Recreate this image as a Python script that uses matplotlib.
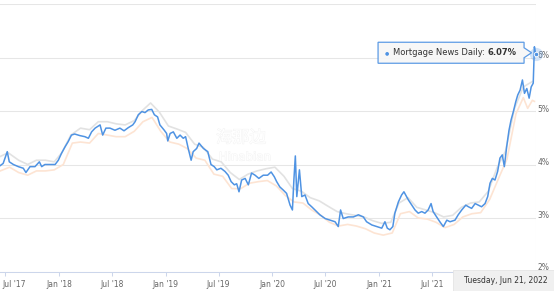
import matplotlib
matplotlib.use("Agg")
import matplotlib.pyplot as plt
import matplotlib.dates as mdates
import matplotlib.patheffects as pe
from matplotlib.patches import Polygon, Rectangle
from matplotlib.transforms import ScaledTranslation
import pandas as pd

# ---- data ----
mnd_points = [
    ("2017-06-13", 3.98), ("2017-06-23", 4.02), ("2017-07-07", 4.24), ("2017-07-14", 4.05),
    ("2017-07-28", 4.00), ("2017-08-14", 3.96), ("2017-08-31", 3.93), ("2017-09-09", 3.85),
    ("2017-09-23", 3.96), ("2017-10-10", 3.96), ("2017-10-25", 4.05), ("2017-11-02", 3.96),
    ("2017-11-13", 4.00), ("2017-11-30", 4.00), ("2017-12-18", 4.00), ("2017-12-29", 4.08),
    ("2018-01-09", 4.21), ("2018-01-21", 4.33), ("2018-02-01", 4.43), ("2018-02-12", 4.55),
    ("2018-02-23", 4.57), ("2018-03-13", 4.54), ("2018-03-30", 4.52), ("2018-04-11", 4.49),
    ("2018-04-22", 4.61), ("2018-05-04", 4.68), ("2018-05-21", 4.74), ("2018-05-30", 4.55),
    ("2018-06-10", 4.68), ("2018-06-24", 4.68), ("2018-07-11", 4.64), ("2018-07-28", 4.68),
    ("2018-08-11", 4.63), ("2018-08-26", 4.69), ("2018-09-10", 4.74), ("2018-09-18", 4.80),
    ("2018-09-29", 4.93), ("2018-10-11", 4.99), ("2018-10-22", 4.97), ("2018-11-02", 5.02),
    ("2018-11-14", 5.03), ("2018-11-23", 4.93), ("2018-12-04", 4.89), ("2018-12-12", 4.74),
    ("2018-12-27", 4.64), ("2019-01-04", 4.58), ("2019-01-08", 4.44), ("2019-01-16", 4.58),
    ("2019-01-27", 4.61), ("2019-02-08", 4.49), ("2019-02-19", 4.55), ("2019-03-02", 4.49),
    ("2019-03-10", 4.52), ("2019-03-19", 4.30), ("2019-03-29", 4.08), ("2019-04-05", 4.24),
    ("2019-04-17", 4.30), ("2019-04-25", 4.40), ("2019-05-10", 4.30), ("2019-05-25", 4.24),
    ("2019-06-05", 4.00), ("2019-06-16", 3.96), ("2019-06-25", 3.90), ("2019-07-09", 3.93),
    ("2019-07-23", 3.87), ("2019-08-03", 3.80), ("2019-08-13", 3.68), ("2019-08-24", 3.62),
    ("2019-09-01", 3.64), ("2019-09-09", 3.49), ("2019-09-18", 3.71), ("2019-09-30", 3.74),
    ("2019-10-11", 3.62), ("2019-10-22", 3.84), ("2019-11-03", 3.80), ("2019-11-16", 3.74),
    ("2019-12-01", 3.80), ("2019-12-16", 3.80), ("2019-12-28", 3.86), ("2020-01-08", 3.77),
    ("2020-01-16", 3.68), ("2020-01-27", 3.58), ("2020-02-08", 3.52), ("2020-02-19", 3.46),
    ("2020-03-02", 3.24), ("2020-03-10", 3.15), ("2020-03-15", 3.71), ("2020-03-20", 4.16),
    ("2020-03-25", 3.40), ("2020-04-03", 3.90), ("2020-04-11", 3.40), ("2020-04-22", 3.43),
    ("2020-05-03", 3.27), ("2020-05-15", 3.21), ("2020-05-26", 3.15), ("2020-06-12", 3.06),
    ("2020-06-30", 2.99), ("2020-07-17", 2.96), ("2020-08-03", 2.93), ("2020-08-14", 2.84),
    ("2020-08-22", 3.15), ("2020-08-31", 2.99), ("2020-09-17", 3.02), ("2020-10-05", 3.02),
    ("2020-10-22", 3.06), ("2020-11-08", 3.02), ("2020-11-19", 2.93), ("2020-12-07", 2.87),
    ("2020-12-24", 2.84), ("2021-01-10", 2.81), ("2021-01-21", 2.93), ("2021-01-29", 2.81),
    ("2021-02-07", 2.78), ("2021-02-17", 2.84), ("2021-02-24", 3.09), ("2021-03-08", 3.30),
    ("2021-03-19", 3.43), ("2021-03-27", 3.49), ("2021-04-05", 3.40), ("2021-04-11", 3.34),
    ("2021-04-23", 3.24), ("2021-05-04", 3.15), ("2021-05-15", 3.09), ("2021-05-27", 3.12),
    ("2021-06-07", 3.09), ("2021-06-18", 3.15), ("2021-06-28", 3.27), ("2021-07-05", 3.12),
    ("2021-07-17", 3.02), ("2021-07-28", 2.93), ("2021-08-09", 2.84), ("2021-08-21", 2.96),
    ("2021-09-01", 2.93), ("2021-09-18", 2.96), ("2021-09-29", 3.06), ("2021-10-11", 3.15),
    ("2021-10-25", 3.24), ("2021-11-03", 3.21), ("2021-11-14", 3.18), ("2021-11-26", 3.27),
    ("2021-12-07", 3.24), ("2021-12-18", 3.21), ("2021-12-30", 3.27), ("2022-01-08", 3.40),
    ("2022-01-16", 3.65), ("2022-01-24", 3.74), ("2022-02-02", 3.71), ("2022-02-11", 3.87),
    ("2022-02-19", 4.12), ("2022-02-27", 4.18), ("2022-03-06", 3.96), ("2022-03-14", 4.33),
    ("2022-03-22", 4.64), ("2022-03-29", 4.83), ("2022-04-06", 4.99), ("2022-04-14", 5.17),
    ("2022-04-21", 5.30), ("2022-04-29", 5.39), ("2022-05-07", 5.58), ("2022-05-14", 5.33),
    ("2022-05-22", 5.42), ("2022-05-30", 5.24), ("2022-06-06", 5.45), ("2022-06-13", 5.52),
    ("2022-06-17", 6.20), ("2022-06-21", 6.07),
]

# faded comparison series (grey above, peach below)
grey_points = [
    ("2017-06-13", 4.15), ("2017-07-10", 4.22), ("2017-08-15", 4.08), ("2017-09-15", 4.00),
    ("2017-10-15", 4.08), ("2017-11-15", 4.08), ("2017-12-15", 4.05), ("2018-01-10", 4.22),
    ("2018-02-10", 4.55), ("2018-03-15", 4.68), ("2018-04-15", 4.65), ("2018-05-15", 4.80),
    ("2018-06-15", 4.80), ("2018-07-15", 4.76), ("2018-08-15", 4.74), ("2018-09-15", 4.82),
    ("2018-10-15", 5.02), ("2018-11-10", 5.15), ("2018-12-10", 4.98), ("2019-01-10", 4.72),
    ("2019-02-10", 4.66), ("2019-03-10", 4.60), ("2019-04-10", 4.38), ("2019-05-10", 4.32),
    ("2019-06-10", 4.10), ("2019-07-10", 4.05), ("2019-08-10", 3.85), ("2019-09-10", 3.72),
    ("2019-10-10", 3.82), ("2019-11-10", 3.88), ("2019-12-10", 3.92), ("2020-01-10", 3.95),
    ("2020-02-10", 3.78), ("2020-03-10", 3.55), ("2020-04-10", 3.50), ("2020-05-10", 3.38),
    ("2020-06-10", 3.32), ("2020-07-10", 3.22), ("2020-08-10", 3.12), ("2020-09-10", 3.08),
    ("2020-10-10", 3.05), ("2020-11-10", 3.02), ("2020-12-10", 2.95), ("2021-01-10", 2.90),
    ("2021-02-10", 2.92), ("2021-03-10", 3.28), ("2021-04-10", 3.38), ("2021-05-10", 3.20),
    ("2021-06-10", 3.15), ("2021-07-10", 3.10), ("2021-08-10", 3.02), ("2021-09-10", 3.05),
    ("2021-10-10", 3.20), ("2021-11-10", 3.28), ("2021-12-10", 3.30), ("2022-01-10", 3.50),
    ("2022-02-10", 3.95), ("2022-03-10", 4.25), ("2022-04-10", 5.05), ("2022-05-10", 5.45),
    ("2022-06-10", 5.55),
]

peach_points = [
    ("2017-06-13", 3.88), ("2017-07-15", 3.95), ("2017-08-15", 3.85), ("2017-09-15", 3.80),
    ("2017-10-15", 3.88), ("2017-11-15", 3.88), ("2017-12-15", 3.90), ("2018-01-15", 4.00),
    ("2018-02-15", 4.40), ("2018-03-15", 4.42), ("2018-04-15", 4.40), ("2018-05-15", 4.58),
    ("2018-06-15", 4.55), ("2018-07-15", 4.52), ("2018-08-15", 4.52), ("2018-09-15", 4.62),
    ("2018-10-15", 4.80), ("2018-11-15", 4.88), ("2018-12-15", 4.62), ("2019-01-15", 4.42),
    ("2019-02-15", 4.38), ("2019-03-15", 4.30), ("2019-04-15", 4.12), ("2019-05-15", 4.08),
    ("2019-06-15", 3.82), ("2019-07-15", 3.78), ("2019-08-15", 3.55), ("2019-09-15", 3.55),
    ("2019-10-15", 3.65), ("2019-11-15", 3.68), ("2019-12-15", 3.70), ("2020-01-15", 3.60),
    ("2020-02-15", 3.42), ("2020-03-15", 3.30), ("2020-04-15", 3.28), ("2020-05-15", 3.15),
    ("2020-06-15", 3.05), ("2020-07-15", 2.92), ("2020-08-15", 2.85), ("2020-09-15", 2.88),
    ("2020-10-15", 2.85), ("2020-11-15", 2.80), ("2020-12-15", 2.72), ("2021-01-15", 2.68),
    ("2021-02-15", 2.72), ("2021-03-15", 3.08), ("2021-04-15", 3.12), ("2021-05-15", 3.00),
    ("2021-06-15", 2.98), ("2021-07-15", 2.92), ("2021-08-15", 2.82), ("2021-09-15", 2.88),
    ("2021-10-15", 3.02), ("2021-11-15", 3.08), ("2021-12-15", 3.10), ("2022-01-15", 3.35),
    ("2022-02-15", 3.75), ("2022-03-15", 4.10), ("2022-04-15", 4.95), ("2022-05-10", 5.25),
    ("2022-05-25", 5.05), ("2022-06-10", 5.20), ("2022-06-17", 5.18),
]

series_name = "Mortgage News Daily"
tick_dates = ["2017-07-01", "2018-01-01", "2018-07-01", "2019-01-01", "2019-07-01",
              "2020-01-01", "2020-07-01", "2021-01-01", "2021-07-01", "2022-01-01"]
y_ticks = [2, 3, 4, 5, 6, 7]


def split(points):
    d, v = zip(*points)
    return pd.to_datetime(list(d)), list(v)


mnd_dates, mnd_rates = split(mnd_points)
grey_dates, grey_rates = split(grey_points)
peach_dates, peach_rates = split(peach_points)

BLUE = "#4f93e3"
W, H = 554, 291
fig = plt.figure(figsize=(W / 100, H / 100), dpi=100)
ax = fig.add_axes([0, 19.5 / H, 536 / W, 267.5 / H])

ax.plot(grey_dates, grey_rates, color="#e2e2e2", lw=1.2, zorder=2)
ax.plot(peach_dates, peach_rates, color="#fde4d3", lw=1.2, zorder=2)
ax.plot(mnd_dates, mnd_rates, color=BLUE, lw=1.1, zorder=3)

ax.set_xlim(pd.Timestamp("2017-06-12 04:00"), pd.Timestamp("2022-06-22 12:00"))
ax.set_ylim(2, 7)

for s in ["left", "right", "top"]:
    ax.spines[s].set_visible(False)
ax.spines["bottom"].set_color("#ccd6eb")
ax.spines["bottom"].set_linewidth(0.75)

ax.set_yticks(y_ticks)
ax.set_yticklabels([f"{t}%" if t < 7 else "" for t in y_ticks])
ax.yaxis.tick_right()
ax.tick_params(axis="y", length=0, pad=1, labelsize=5.5, labelcolor="#666666")
for t, lab in zip(y_ticks, ax.get_yticklabels()):
    dy = 0.055 if t == 2 else 0.03
    lab.set_transform(lab.get_transform() + ScaledTranslation(0, dy, fig.dpi_scale_trans))
ax.grid(axis="y", color="#e6e6e6", lw=0.75)
ax.set_axisbelow(True)

ax.set_xticks(pd.to_datetime(tick_dates))
ax.xaxis.set_major_formatter(mdates.DateFormatter("%b '%y"))
ax.tick_params(axis="x", length=3, width=0.75, color="#ccd6eb", pad=3,
               labelsize=5.5, labelcolor="#666666")
xl = ax.get_xticklabels()
xl[0].set_horizontalalignment("left")
xl[0].set_transform(xl[0].get_transform() + ScaledTranslation(-0.035, 0, fig.dpi_scale_trans))
xl[-1].set_visible(False)  # hidden under the crosshair date label

# watermark (very faint)
fig.text(241 / W, 1 - 138 / H, "海那边", fontsize=12, color="white", ha="center", va="center",
         family=["Noto Sans CJK SC", "DejaVu Sans"], zorder=5,
         path_effects=[pe.withStroke(linewidth=0.7, foreground="#f3f3f3")])
fig.text(245 / W, 1 - 157 / H, "Hinabian", fontsize=8.5, color="white", ha="center", va="center",
         zorder=5, path_effects=[pe.withStroke(linewidth=0.7, foreground="#f3f3f3")])

# crosshair + hover marker (with halo) on the last point
last_d, last_v = mnd_dates[-1], mnd_rates[-1]
ax.axvline(last_d, color="#cccccc", lw=0.75, zorder=1)
ax.plot([last_d], [last_v], "o", ms=9.5, color=BLUE, alpha=0.25, mew=0, zorder=6,
        clip_on=False)
ax.plot([last_d], [last_v], "o", ms=3.2, color=BLUE, mec="white", mew=0.6, zorder=7,
        clip_on=False)

# tooltip callout, anchored to the last point
fig.canvas.draw()
px, py = ax.transData.transform((mdates.date2num(last_d), last_v))
right, tip, left = px - 11.5, px - 4, px - 157.5
top, bot = py + 11.5, py - 9.5
cy = py + 1
shape = [(left, bot), (right, bot), (right, cy - 5), (tip, cy), (right, cy + 5),
         (right, top), (left, top)]
fig.patches.append(Polygon([(x / W, y / H) for x, y in shape], closed=True,
                           transform=fig.transFigure, facecolor="#f7f7f7", alpha=0.92,
                           edgecolor=BLUE, lw=0.9, zorder=8))
fig.text((left + 9) / W, cy / H, "●", color=BLUE, fontsize=3.5, ha="center", va="center", zorder=9)
t1 = fig.text((left + 15) / W, cy / H, f"{series_name}: ", color="#333333", fontsize=6,
              ha="left", va="center", zorder=9)
fig.canvas.draw()
bb = t1.get_window_extent()
fig.text(bb.x1 / W, cy / H, f"{last_v:.2f}%", color="#333333", fontsize=6, weight="bold",
         ha="left", va="center", zorder=9)

# date label of the crosshair
fig.patches.append(Rectangle((453 / W, 0), (W - 453) / W, 21 / H, transform=fig.transFigure,
                             facecolor="#f0f0f0", edgecolor="#e4e4e4", lw=0.6, zorder=8))
fig.text(506 / W, 10.3 / H, last_d.strftime("%A, %b %d, %Y"), color="#333333", fontsize=5.5,
         ha="center", va="center", zorder=9)

fig.savefig("out.png", dpi=100)
